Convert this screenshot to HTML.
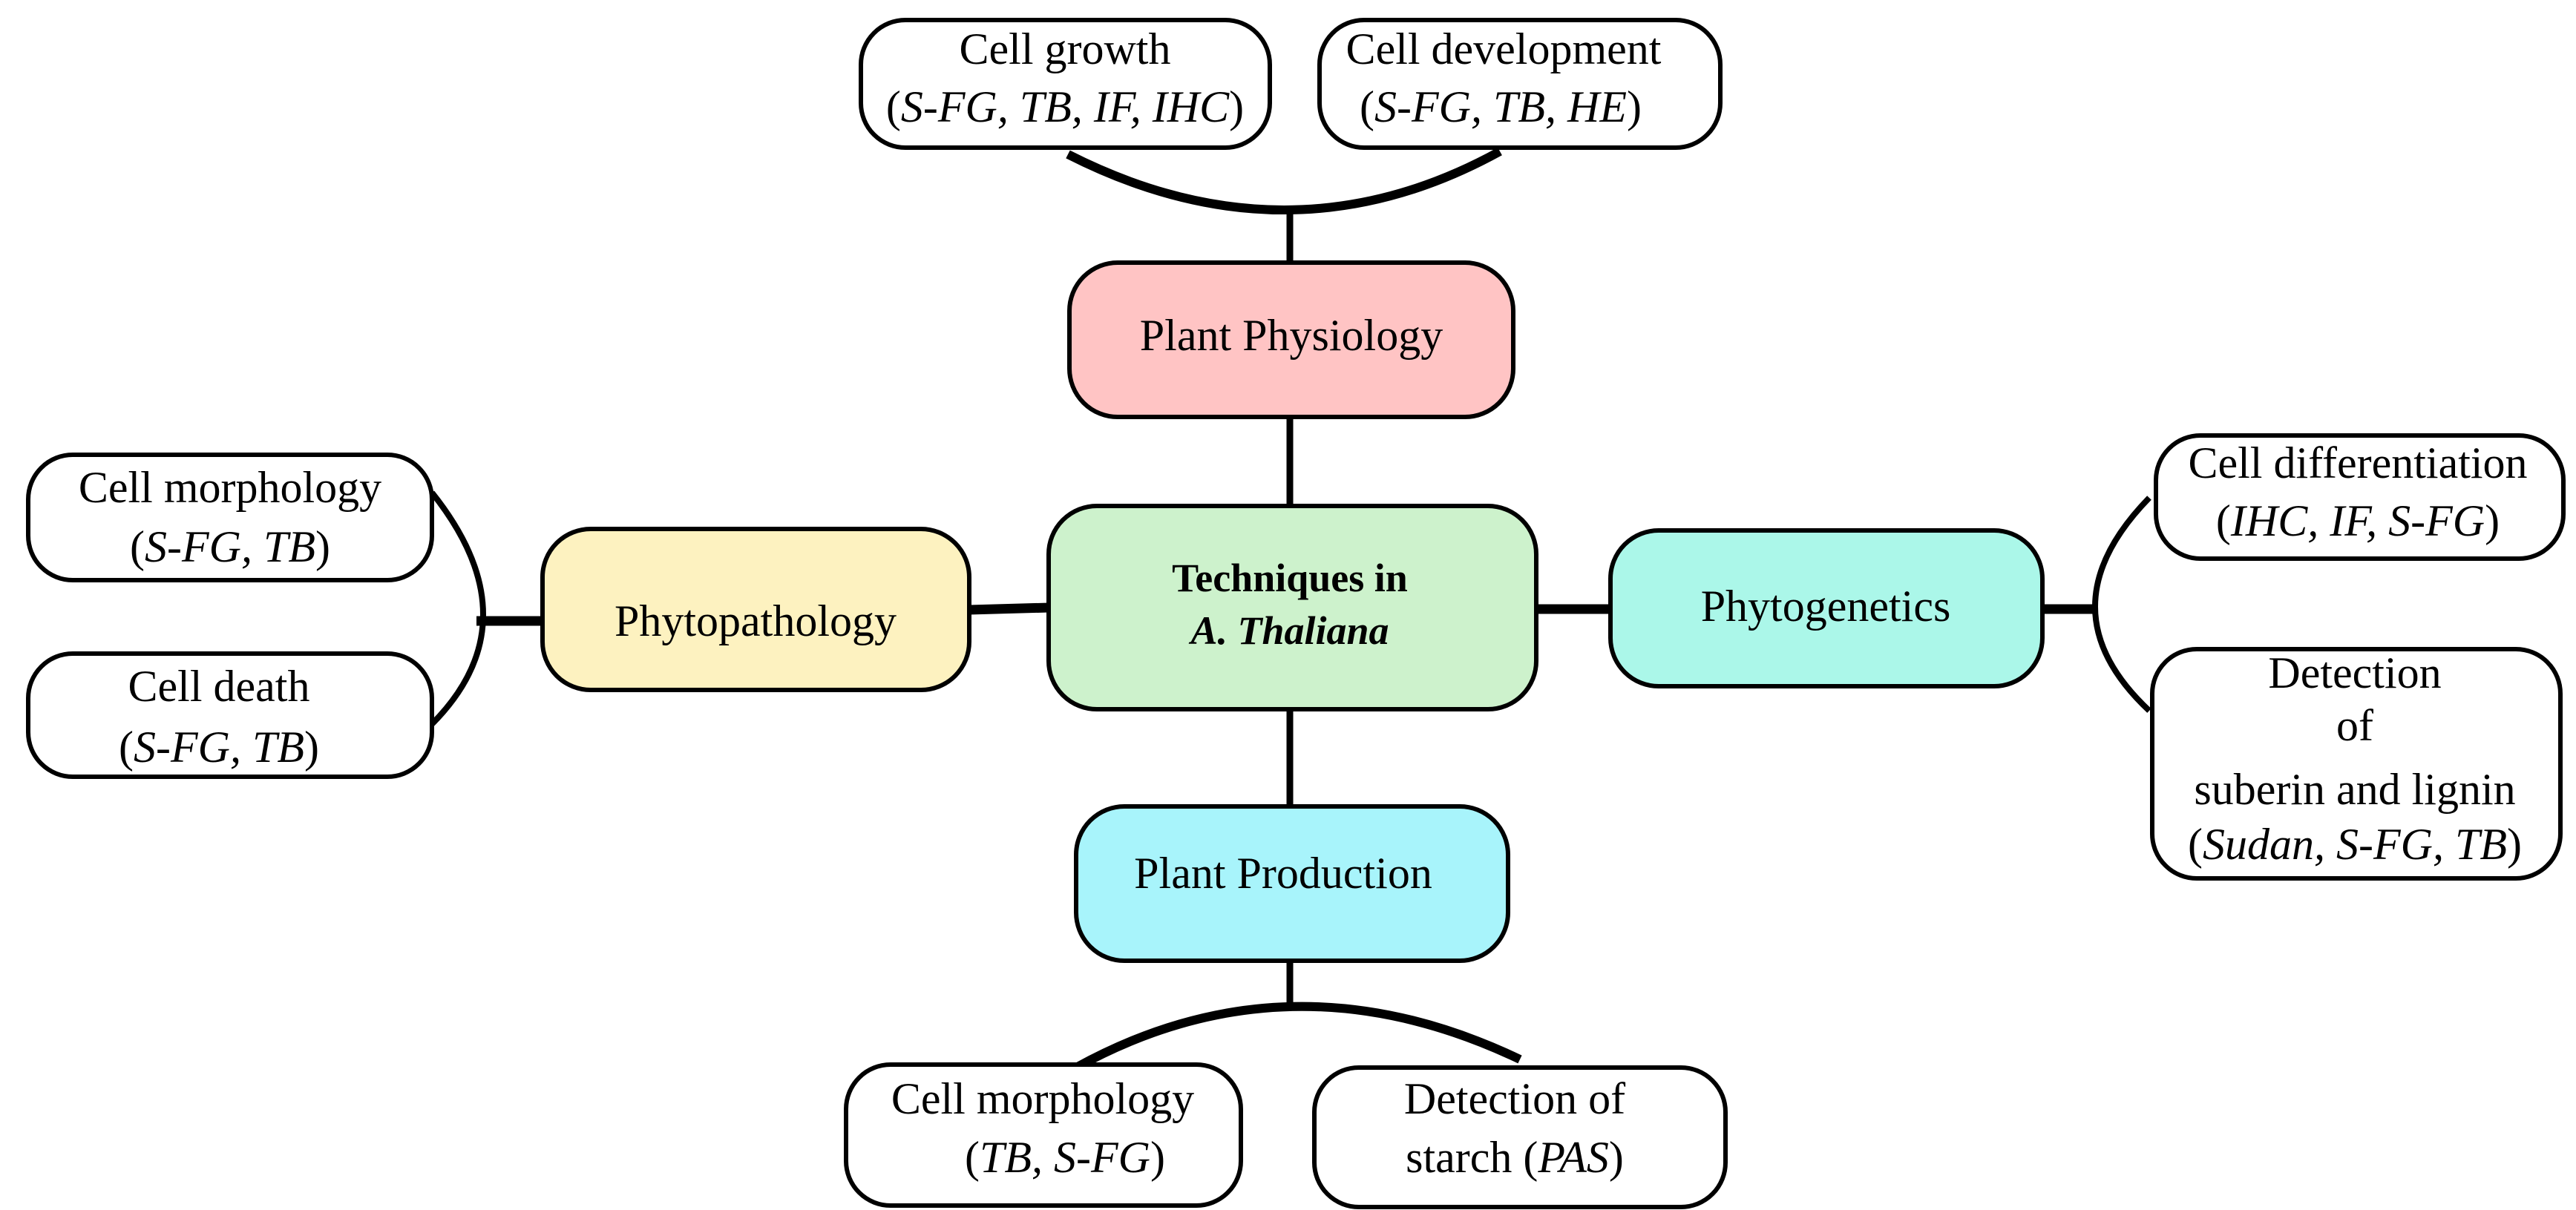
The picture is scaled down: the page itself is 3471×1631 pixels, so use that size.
<!DOCTYPE html>
<html><head><meta charset="utf-8"><style>html,body{margin:0;padding:0;background:#fff}svg{display:block}</style></head>
<body>
<svg width="3471" height="1631" viewBox="0 0 3471 1631" xmlns="http://www.w3.org/2000/svg" font-family="'Liberation Serif', serif" font-size="60" text-anchor="middle">
<g fill="none" stroke="#000" stroke-linecap="butt">
<path d="M1439 208 Q1738 360 2021 204" stroke-width="12"/>
<line x1="1738" y1="283" x2="1738" y2="354" stroke-width="9"/>
<line x1="1738" y1="562" x2="1738" y2="682" stroke-width="9"/>
<line x1="1738" y1="956" x2="1738" y2="1087" stroke-width="9"/>
<line x1="1738" y1="1295" x2="1738" y2="1355" stroke-width="9"/>
<path d="M1450 1439 Q1738 1280 2048 1428" stroke-width="12"/>
<line x1="1306" y1="822" x2="1413" y2="819" stroke-width="13"/>
<line x1="642" y1="837" x2="731" y2="837" stroke-width="13"/>
<path d="M582 664 Q720 837 582 976" stroke-width="8"/>
<line x1="2070" y1="821" x2="2170" y2="821" stroke-width="13"/>
<line x1="2752" y1="821" x2="2823" y2="821" stroke-width="13"/>
<path d="M2896 671 Q2750 821 2896 958" stroke-width="8"/>
</g>
<g stroke="#000" stroke-width="6">
<rect x="1160" y="27" width="551" height="172" rx="60" fill="#fff"/>
<rect x="1778" y="27" width="540" height="172" rx="60" fill="#fff"/>
<rect x="1441" y="354" width="598" height="208" rx="65" fill="#ffc4c4"/>
<rect x="1413" y="682" width="657" height="274" rx="65" fill="#cdf2cc"/>
<rect x="1450" y="1087" width="582" height="208" rx="65" fill="#a8f4fb"/>
<rect x="1140" y="1435" width="532" height="190" rx="60" fill="#fff"/>
<rect x="1771" y="1439" width="554" height="188" rx="60" fill="#fff"/>
<rect x="731" y="713" width="575" height="217" rx="65" fill="#fdf2c0"/>
<rect x="38" y="613" width="544" height="169" rx="60" fill="#fff"/>
<rect x="38" y="881" width="544" height="166" rx="60" fill="#fff"/>
<rect x="2170" y="715" width="582" height="210" rx="65" fill="#abf7e9"/>
<rect x="2905" y="587" width="549" height="166" rx="60" fill="#fff"/>
<rect x="2900" y="875" width="550" height="309" rx="60" fill="#fff"/>
</g>
<g fill="#000" dominant-baseline="central">
<text x="1435" y="66">Cell growth</text>
<text x="1435" y="144">(<tspan font-style="italic">S-FG, TB, IF, IHC</tspan>)</text>
<text x="2026" y="66">Cell development</text>
<text x="2022" y="144">(<tspan font-style="italic">S-FG, TB, HE</tspan>)</text>
<text x="1740" y="452">Plant Physiology</text>
<text x="1738" y="779" font-weight="bold" font-size="54">Techniques in</text>
<text x="1738" y="850" font-weight="bold" font-style="italic" font-size="54">A. Thaliana</text>
<text x="1729" y="1177">Plant Production</text>
<text x="1405" y="1481">Cell morphology</text>
<text x="1435" y="1560">(<tspan font-style="italic">TB, S-FG</tspan>)</text>
<text x="2041" y="1481">Detection of</text>
<text x="2041" y="1560">starch (<tspan font-style="italic">PAS</tspan>)</text>
<text x="1018" y="837">Phytopathology</text>
<text x="310" y="657">Cell morphology</text>
<text x="310" y="737">(<tspan font-style="italic">S-FG, TB</tspan>)</text>
<text x="295" y="925">Cell death</text>
<text x="295" y="1007">(<tspan font-style="italic">S-FG, TB</tspan>)</text>
<text x="2460" y="817">Phytogenetics</text>
<text x="3177" y="624">Cell differentiation</text>
<text x="3177" y="702">(<tspan font-style="italic">IHC, IF, S-FG</tspan>)</text>
<text x="3173" y="907">Detection</text>
<text x="3173" y="978">of</text>
<text x="3173" y="1064">suberin and lignin</text>
<text x="3173" y="1138">(<tspan font-style="italic">Sudan, S-FG, TB</tspan>)</text>
</g>
</svg>
</body></html>
